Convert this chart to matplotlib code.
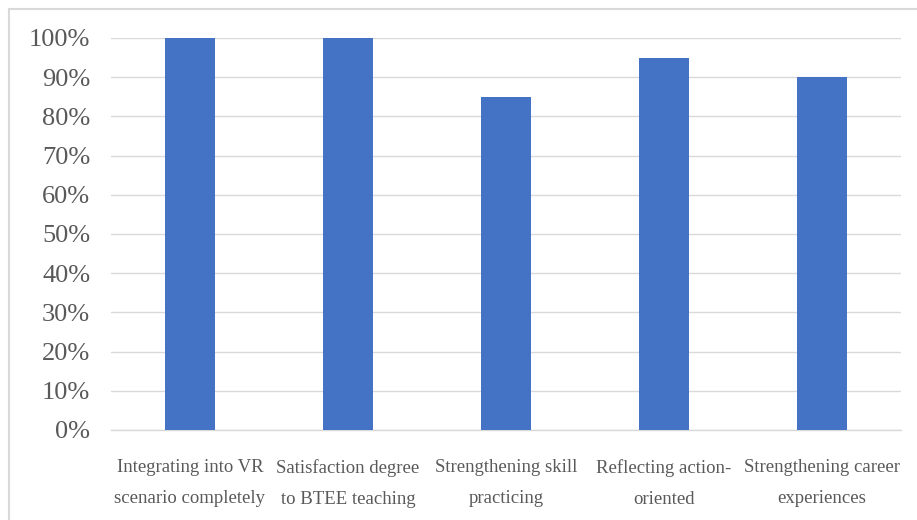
import matplotlib
matplotlib.use("Agg")
import matplotlib.pyplot as plt
from matplotlib.patches import Rectangle

categories = ["Integrating into VR\nscenario completely",
              "Satisfaction degree\nto BTEE teaching",
              "Strengthening skill\npracticing",
              "Reflecting action-\noriented",
              "Strengthening career\nexperiences"]
values = [1.00, 1.00, 0.85, 0.95, 0.90]
yticks = [0, 0.1, 0.2, 0.3, 0.4, 0.5, 0.6, 0.7, 0.8, 0.9, 1.0]
ytick_labels = ["0%", "10%", "20%", "30%", "40%", "50%", "60%", "70%", "80%", "90%", "100%"]

plt.rcParams['font.family'] = ['Liberation Serif', 'DejaVu Serif']

W, H = 917, 520
fig = plt.figure(figsize=(W/100, H/100), dpi=100)
ax = fig.add_axes([111/W, 1 - 430/H, (901-111)/W, (430-38)/H])

x = range(len(categories))
ax.bar(x, values, width=0.32, color="#4472C4", zorder=3)
ax.set_xlim(-0.5, len(categories) - 0.5)
ax.set_ylim(0, 1.0)
ax.set_yticks(yticks)
ax.set_yticklabels(ytick_labels, fontsize=19, color="#595959")
ax.set_xticks(list(x))
ax.set_xticklabels(categories, fontsize=13.5, color="#595959", linespacing=2.05)
ax.tick_params(axis='both', length=0)
ax.tick_params(axis='y', pad=15)
ax.tick_params(axis='x', pad=21)
ax.yaxis.grid(True, color="#D9D9D9", linewidth=1, zorder=0)
for s in ["top", "right", "left"]:
    ax.spines[s].set_visible(False)
ax.spines["bottom"].set_color("#D9D9D9")
ax.spines["bottom"].set_linewidth(1)

fig.patches.append(Rectangle((9/W, -0.01), 1.0, 1 - 9/H + 0.01, transform=fig.transFigure,
                             fill=False, edgecolor="#D9D9D9", linewidth=1.5))

fig.savefig("out.png", dpi=100)
